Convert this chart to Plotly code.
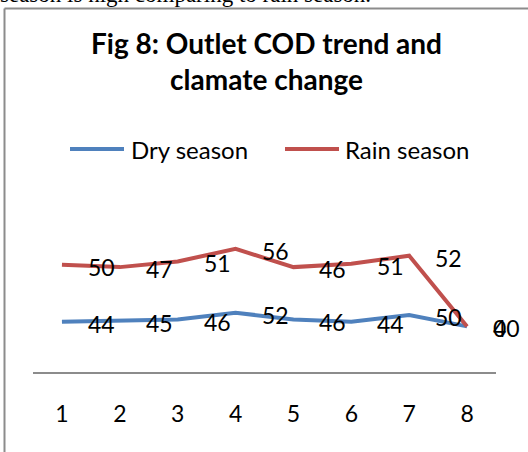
import plotly.graph_objects as go

# COD at the outlet, per sampling point
categories = [1, 2, 3, 4, 5, 6, 7, 8]
dry_season = [44, 45, 46, 52, 46, 44, 50, 40]
rain_season = [50, 47, 51, 56, 46, 51, 52, 0]

W, H = 528, 452
BLUE = "#4F81BD"
RED = "#C0504D"
GRAY = "#8C8C8C"
FONT = "Lato"


def px(x):
    return x / W


def py(y):
    return 1 - y / H


fig = go.Figure()

# stacked line series (no fill)
fig.add_trace(go.Scatter(x=categories, y=dry_season, name="Dry season",
                         mode="lines", stackgroup="cod", fill="none",
                         line=dict(color=BLUE, width=4)))
fig.add_trace(go.Scatter(x=categories, y=rain_season, name="Rain season",
                         mode="lines", stackgroup="cod", fill="none",
                         line=dict(color=RED, width=4)))

annotations = []
# data labels to the right of each point
for i, c in enumerate(categories):
    base = dry_season[i]
    annotations.append(dict(x=c, y=base, xref="x", yref="y", text=str(dry_season[i]),
                            showarrow=False, xanchor="left", yanchor="middle",
                            xshift=24, yshift=-2, font=dict(family=FONT, size=23, color="black")))
    annotations.append(dict(x=c, y=base + rain_season[i], xref="x", yref="y",
                            text=str(rain_season[i]), showarrow=False, xanchor="left",
                            yanchor="middle", xshift=24, yshift=-2,
                            font=dict(family=FONT, size=23, color="black")))

# title
annotations.append(dict(x=px(266), y=py(24), xref="paper", yref="paper",
                        text="<b>Fig 8: Outlet COD trend and<br>clamate change</b>",
                        showarrow=False, xanchor="center", yanchor="top",
                        font=dict(family=FONT, size=28, color="black")))

# running text of the page above the chart
annotations.append(dict(x=px(-2), y=py(9), xref="paper", yref="paper",
                        text="season is high comparing to rain season.",
                        showarrow=False, xanchor="left", yanchor="bottom",
                        font=dict(family="Liberation Serif", size=23, color="black")))

# legend
legend_items = [("Dry season", BLUE, 70, 124, 129), ("Rain season", RED, 285, 339, 343)]
shapes = []
for label, color, x0, x1, xt in legend_items:
    shapes.append(dict(type="line", xref="paper", yref="paper",
                       x0=px(x0), x1=px(x1), y0=py(149), y1=py(149),
                       line=dict(color=color, width=4)))
    annotations.append(dict(x=px(xt), y=py(149), xref="paper", yref="paper", text=label,
                            showarrow=False, xanchor="left", yanchor="middle",
                            font=dict(family=FONT, size=24, color="black")))

# chart frame (left and top edges)
shapes.append(dict(type="line", xref="paper", yref="paper", x0=px(4.5), x1=px(4.5),
                   y0=py(8.5), y1=py(460), line=dict(color=GRAY, width=2)))
shapes.append(dict(type="line", xref="paper", yref="paper", x0=px(4.5), x1=px(540),
                   y0=py(8.5), y1=py(8.5), line=dict(color=GRAY, width=2)))

fig.update_layout(
    width=W, height=H,
    margin=dict(l=0, r=0, t=0, b=0),
    paper_bgcolor="white", plot_bgcolor="white",
    showlegend=False,
    font=dict(family=FONT, color="black"),
    xaxis=dict(domain=[px(33), px(496)], range=[0.5, 8.5], tickvals=categories,
               showline=True, linecolor=GRAY, linewidth=2, showgrid=False,
               zeroline=False, ticks="", ticklabelstandoff=20,
               tickfont=dict(family=FONT, size=23, color="black")),
    yaxis=dict(domain=[py(372), py(235.2)], range=[0, 120], visible=False,
               showgrid=False, zeroline=False),
    annotations=annotations,
    shapes=shapes,
)

fig.write_html("out.html")
